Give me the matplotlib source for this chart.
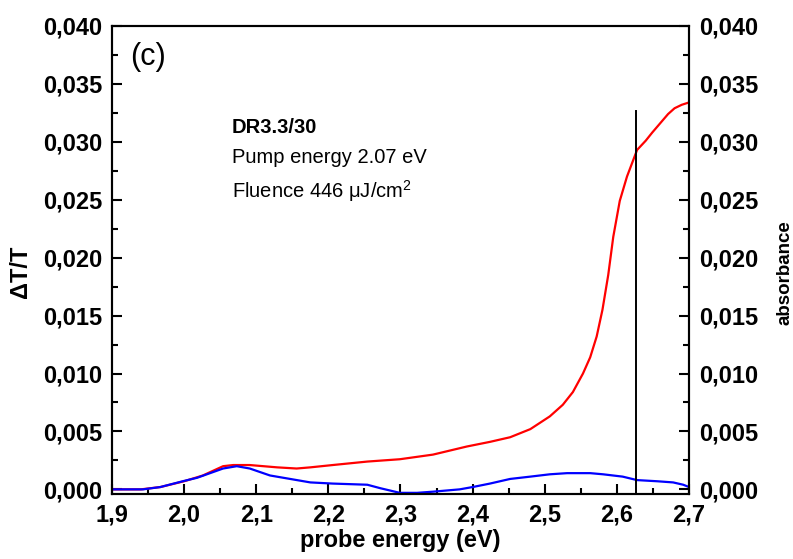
import numpy as np
import matplotlib
matplotlib.use("Agg")
import matplotlib.pyplot as plt
from matplotlib.ticker import MultipleLocator, FuncFormatter

plt.rcParams['font.family'] = ['Liberation Sans', 'DejaVu Sans']
plt.rcParams['mathtext.fontset'] = 'custom'
plt.rcParams['mathtext.rm'] = 'Liberation Sans'
plt.rcParams['mathtext.it'] = 'Liberation Sans'

# =========================
# DATA
# =========================
abs_energy = [1.90, 1.94, 1.967, 2.00, 2.026, 2.054, 2.068, 2.091, 2.129, 2.156,
              2.175, 2.206, 2.254, 2.299, 2.345, 2.392, 2.424, 2.452, 2.480, 2.507,
              2.525, 2.539, 2.553, 2.563, 2.572, 2.580, 2.588, 2.595, 2.604, 2.614,
              2.628, 2.640, 2.649, 2.660, 2.671, 2.680, 2.690, 2.700]
absorbance = [0.0000, 0.0000, 0.0002, 0.0007, 0.0012, 0.0020, 0.0021, 0.0021, 0.0019, 0.0018,
              0.0019, 0.0021, 0.0024, 0.0026, 0.0030, 0.0037, 0.0041, 0.0045, 0.0052, 0.0063,
              0.0073, 0.0084, 0.0100, 0.0114, 0.0132, 0.0155, 0.0185, 0.0218, 0.0249, 0.0270,
              0.0293, 0.0301, 0.0308, 0.0316, 0.0324, 0.0329, 0.0332, 0.0334]

dtt_energy = [1.90, 1.943, 1.967, 1.998, 2.018, 2.036, 2.054, 2.073, 2.091, 2.119,
              2.147, 2.175, 2.206, 2.254, 2.272, 2.299, 2.323, 2.345, 2.382, 2.400,
              2.424, 2.452, 2.480, 2.507, 2.531, 2.563, 2.581, 2.608, 2.628, 2.656,
              2.678, 2.692, 2.700]
dtt = [0.0000, 0.0000, 0.0002, 0.0007, 0.0010, 0.0014, 0.0018, 0.0020, 0.0018, 0.0012,
       0.0009, 0.0006, 0.0005, 0.0004, 0.0001, -0.0003, -0.0003, -0.0002, 0.0000, 0.0002,
       0.0005, 0.0009, 0.0011, 0.0013, 0.0014, 0.0014, 0.0013, 0.0011, 0.0008, 0.0007,
       0.0006, 0.0004, 0.0002]

pump_line_x = 2.627
pump_line_top = 0.0327

# =========================
# FIGURE
# =========================
fig = plt.figure(figsize=(7.93, 5.59), dpi=100)
ax = fig.add_axes([112 / 793, 1 - 494 / 559, 577 / 793, 468 / 559])

ax.plot(abs_energy, absorbance, color="#ff0000", lw=1.6)
ax.plot(dtt_energy, dtt, color="#0000ff", lw=1.6)
ax.plot([pump_line_x, pump_line_x], [-0.0004, pump_line_top], color="black", lw=1.4)

ax.set_xlim(1.9, 2.7)
ax.set_ylim(-0.0004, 0.040)

comma = FuncFormatter(lambda v, p: f"{v:.1f}".replace(".", ","))
comma3 = FuncFormatter(lambda v, p: f"{v:.3f}".replace(".", ",").replace("-", ""))

ax.xaxis.set_major_locator(MultipleLocator(0.1))
ax.xaxis.set_minor_locator(MultipleLocator(0.05))
ax.yaxis.set_major_locator(MultipleLocator(0.005))
ax.yaxis.set_minor_locator(MultipleLocator(0.0025))
ax.xaxis.set_major_formatter(comma)
ax.yaxis.set_major_formatter(comma3)

ax.tick_params(which="both", direction="in", width=1.5, top=False)
ax.tick_params(which="major", length=7)
ax.tick_params(which="minor", length=4)
ax.tick_params(axis="x", which="major", pad=7, labelsize=17)
ax.tick_params(axis="y", which="major", pad=7, labelsize=17)
for lab in ax.get_xticklabels() + ax.get_yticklabels():
    lab.set_fontweight("bold")
for s in ax.spines.values():
    s.set_linewidth(1.5)

ax.set_xlabel("probe energy (eV)", fontsize=17, fontweight="bold", labelpad=2)
ax.set_ylabel("ΔT/T", fontsize=17, fontweight="bold")
ax.yaxis.set_label_coords(-0.139, 0.474)

ax2 = ax.twinx()
ax2.set_ylim(ax.get_ylim())
ax2.yaxis.set_major_locator(MultipleLocator(0.005))
ax2.yaxis.set_minor_locator(MultipleLocator(0.0025))
ax2.yaxis.set_major_formatter(comma3)
ax2.tick_params(which="both", direction="in", width=1.5)
ax2.tick_params(which="major", length=7, pad=7, labelsize=17)
ax2.tick_params(which="minor", length=4)
for lab in ax2.get_yticklabels():
    lab.set_fontweight("bold")
for s in ax2.spines.values():
    s.set_linewidth(1.5)
ax2.set_ylabel("absorbance", fontsize=13.5, fontweight="bold")
ax2.yaxis.set_label_coords(1.151, 0.474)

# =========================
# ANNOTATIONS
# =========================
ax.text(0.031, 0.934, "(c)", transform=ax.transAxes, fontsize=22, va="center", ha="left")
ax.text(0.208, 0.784, "DR3.3/30", transform=ax.transAxes, fontsize=14.5,
        fontweight="bold", va="center", ha="left")
ax.text(0.208, 0.718, "Pump energy 2.07 eV", transform=ax.transAxes, fontsize=14.5,
        va="center", ha="left")
ax.text(0.208, 0.647, "Fluence 446 μJ/cm$^2$", transform=ax.transAxes, fontsize=14.5,
        va="center", ha="left")

fig.savefig("out.png", dpi=100)
